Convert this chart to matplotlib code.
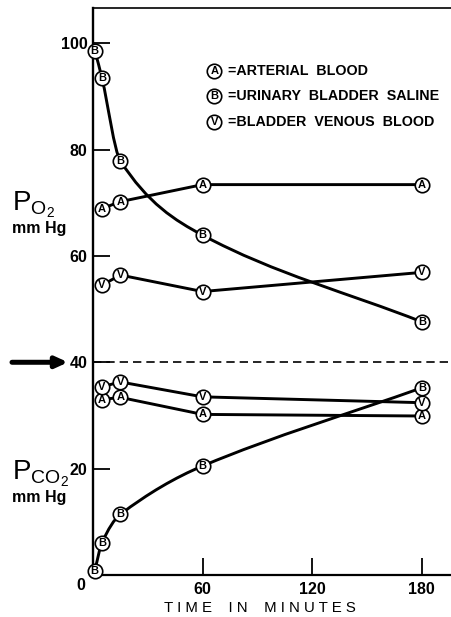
import matplotlib
matplotlib.use("Agg")
import matplotlib.pyplot as plt
from matplotlib.path import Path
import matplotlib.patches as patches

plt.rcParams['font.family'] = ['Liberation Sans', 'DejaVu Sans']
plt.rcParams['mathtext.fontset'] = 'custom'
plt.rcParams['mathtext.rm'] = 'Liberation Sans'

# time points (minutes)
t_blood = [5, 15, 60, 180]
t_saline = [1, 5, 15, 60, 180]

# PO2 (mm Hg)
po2_arterial = [68.9, 70.2, 73.4, 73.4]
po2_saline = [98.6, 93.4, 77.9, 63.9, 47.6]
po2_venous = [54.5, 56.4, 53.3, 56.9]

# PCO2 (mm Hg)
pco2_arterial = [33.0, 33.4, 30.2, 29.9]
pco2_saline = [0.8, 6.1, 11.4, 20.5, 35.2]
pco2_venous = [35.4, 36.3, 33.5, 32.4]

legend_items = [("A", "=ARTERIAL  BLOOD"),
                ("B", "=URINARY  BLADDER  SALINE"),
                ("V", "=BLADDER  VENOUS  BLOOD")]

LW = 2.1
MS = 10.4
LETTER_FS = 8


def smooth_path(x, y):
    # cubic bezier through the points, tangent = slope between neighbours
    n = len(x)
    h = [x[i + 1] - x[i] for i in range(n - 1)]
    m = [0.0] * n
    m[0] = (y[1] - y[0]) / h[0]
    m[-1] = (y[-1] - y[-2]) / h[-1]
    for k in range(1, n - 1):
        m[k] = (y[k + 1] - y[k - 1]) / (x[k + 1] - x[k - 1])
    verts = [(x[0], y[0])]
    codes = [Path.MOVETO]
    for k in range(n - 1):
        verts += [(x[k] + h[k] / 3, y[k] + m[k] * h[k] / 3),
                  (x[k + 1] - h[k] / 3, y[k + 1] - m[k + 1] * h[k] / 3),
                  (x[k + 1], y[k + 1])]
        codes += [Path.CURVE4] * 3
    return Path(verts, codes)


def letter_markers(ax, x, y, letter):
    ax.plot(x, y, 'o', ms=MS, mfc='white', mec='black', mew=1.2, zorder=5, clip_on=False)
    for xi, yi in zip(x, y):
        ax.text(xi, yi, letter, ha='center', va='center', fontsize=LETTER_FS,
                fontweight='bold', zorder=6)


fig = plt.figure(figsize=(4.51, 6.17), dpi=100)
ax = fig.add_axes([0.206, 0.068, 0.794, 0.919])
ax.set_xlim(0, 196)
ax.set_ylim(0, 106.6)

# straight-line series
for xs, ys, let in [(t_blood, po2_arterial, "A"), (t_blood, po2_venous, "V"),
                    (t_blood, pco2_arterial, "A"), (t_blood, pco2_venous, "V")]:
    ax.plot(xs, ys, color='black', lw=LW, zorder=3)
    letter_markers(ax, xs, ys, let)

# smooth saline curves
for ys in [po2_saline, pco2_saline]:
    ax.add_patch(patches.PathPatch(smooth_path(t_saline, ys), fc='none', ec='black',
                                   lw=LW, zorder=3))
    letter_markers(ax, t_saline, ys, "B")

ax.axhline(40, color='black', lw=1.2, ls=(0, (5, 3)), zorder=2)

# axes styling
ax.spines['right'].set_visible(False)
ax.spines['left'].set_linewidth(1.7)
ax.spines['bottom'].set_linewidth(1.6)
ax.spines['top'].set_linewidth(1.2)

ax.set_yticks([20, 40, 60, 80, 100])
ax.set_yticklabels(['20', '40', '60', '80', '100'])
ax.set_xticks([60, 120, 180])
ax.set_xticklabels(['60', '120', '180'])
ax.tick_params(axis='both', direction='in', length=12, width=1.3, labelsize=11.5)
ax.tick_params(axis='y', pad=4)
ax.tick_params(axis='x', pad=5)
for lab in ax.get_xticklabels() + ax.get_yticklabels():
    lab.set_fontweight('bold')
ax.text(-0.035, -0.018, '0', transform=ax.transAxes, ha='center', va='center',
        fontsize=11.5, fontweight='bold')

# axis titles
ax.text(0.466, -0.058, 'T I M E    I N    M I N U T E S', transform=ax.transAxes,
        ha='center', va='center', fontsize=10.8)
fig.text(0.026, 0.668, r'$\mathregular{P_{O_2}}$', fontsize=20, ha='left', va='center')
fig.text(0.026, 0.630, 'mm Hg', fontsize=11.5, fontweight='bold', ha='left', va='center')
fig.text(0.026, 0.232, r'$\mathregular{P_{CO_2}}$', fontsize=20, ha='left', va='center')
fig.text(0.026, 0.193, 'mm Hg', fontsize=11.5, fontweight='bold', ha='left', va='center')

# arrow pointing at 40
ax.annotate('', xy=(68 / 451, 40), xycoords=('figure fraction', 'data'),
            xytext=(12 / 451, 40), textcoords=('figure fraction', 'data'),
            arrowprops=dict(arrowstyle='-|>,head_length=0.7,head_width=0.32',
                            lw=3.6, color='black', shrinkA=0, shrinkB=0))

# legend
for i, (let, lab) in enumerate(legend_items):
    yy = 0.889 - i * 0.045
    ax.plot([0.339], [yy], 'o', ms=MS, mfc='white', mec='black', mew=1.2,
            transform=ax.transAxes, zorder=5)
    ax.text(0.339, yy, let, transform=ax.transAxes, ha='center', va='center',
            fontsize=LETTER_FS, fontweight='bold', zorder=6)
    ax.text(0.378, yy, lab, transform=ax.transAxes, ha='left', va='center',
            fontsize=10.3, fontweight='bold')

fig.savefig('out.png', dpi=100)
